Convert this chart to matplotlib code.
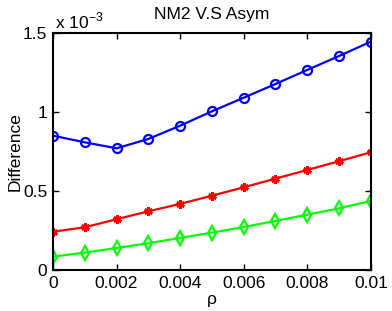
import matplotlib
matplotlib.use("Agg")
import matplotlib.pyplot as plt
import numpy as np

rho = [0, 0.001, 0.002, 0.003, 0.004, 0.005, 0.006, 0.007, 0.008, 0.009, 0.01]
blue_vals = [0.850, 0.808, 0.770, 0.829, 0.913, 1.004, 1.090, 1.177, 1.266, 1.354, 1.445]
red_vals = [0.242, 0.270, 0.321, 0.371, 0.418, 0.470, 0.523, 0.578, 0.633, 0.688, 0.745]
green_vals = [0.084, 0.110, 0.139, 0.169, 0.203, 0.236, 0.272, 0.310, 0.350, 0.390, 0.437]

xticks = [0, 0.002, 0.004, 0.006, 0.008, 0.01]
xticklabels = ["0", "0.002", "0.004", "0.006", "0.008", "0.01"]
yticks = [0, 0.5, 1.0, 1.5]
yticklabels = ["0", "0.5", "1", "1.5"]

plt.rcParams['font.family'] = ['Liberation Sans', 'DejaVu Sans']
plt.rcParams['mathtext.fontset'] = 'custom'
plt.rcParams['mathtext.rm'] = 'Liberation Sans'

FS = 12.5
fig = plt.figure(figsize=(3.92, 3.11), dpi=100)
ax = fig.add_axes([0.135, 0.132, 0.811, 0.762])

ax.plot(rho, blue_vals, color='#0000ff', lw=1.6, marker='o', ms=6.5, mfc='none', mec='#0000ff', mew=1.6)
ax.plot(rho, red_vals, color='#ff0000', lw=1.6, marker=(6, 2, 0), ms=6, mfc='#ff0000', mec='#ff0000', mew=2.0)
ax.plot(rho, green_vals, color='#00ff00', lw=1.6, marker='d', ms=7, mfc='none', mec='#00ff00', mew=1.6)

ax.set_xlim(0, 0.01)
ax.set_ylim(0, 1.5)
ax.set_xticks(xticks)
ax.set_xticklabels(xticklabels)
ax.set_yticks(yticks)
ax.set_yticklabels(yticklabels)
ax.tick_params(direction='in', top=True, right=True, length=4, width=1, labelsize=FS, pad=4)
for s in ax.spines.values():
    s.set_linewidth(1.5)

ax.set_xlabel('ρ', fontsize=FS, labelpad=1)
ax.set_ylabel('Difference', fontsize=FS, labelpad=0)
ax.set_title('NM2 V.S Asym', fontsize=FS, pad=10)
ax.text(0.005, 1.005, r'x 10$^{-3}$', transform=ax.transAxes, fontsize=FS, ha='left', va='bottom')

fig.savefig('out.png', dpi=100)
